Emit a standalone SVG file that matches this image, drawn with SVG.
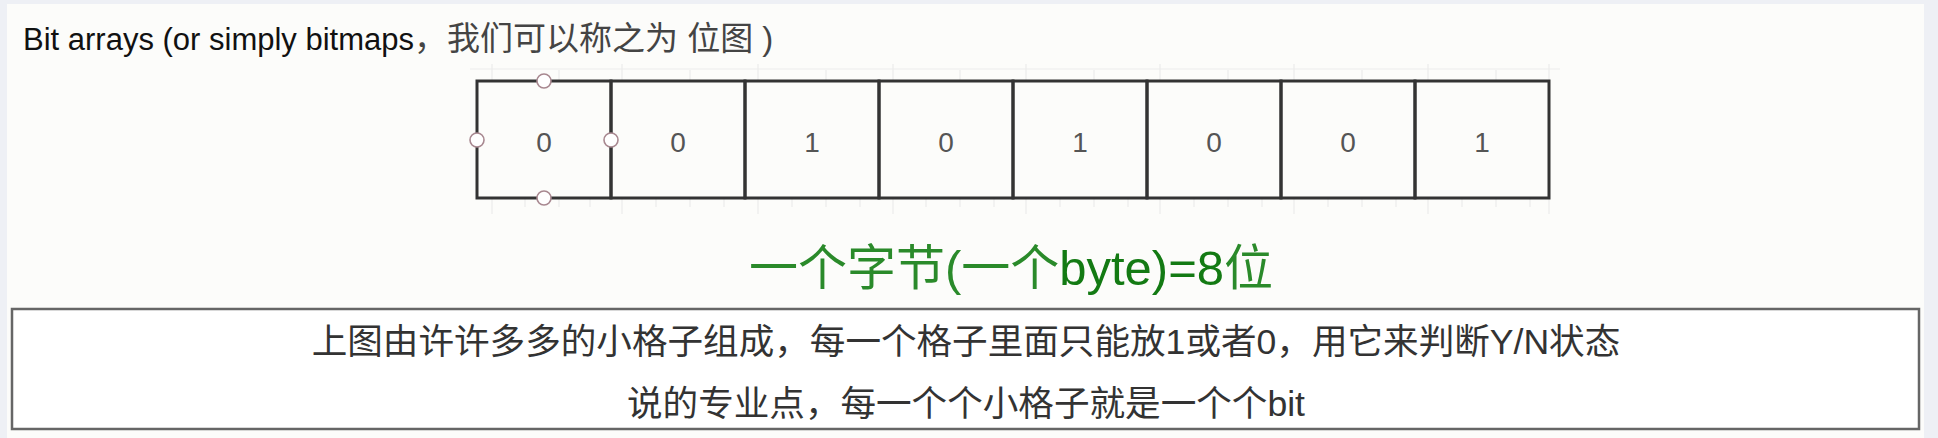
<svg xmlns="http://www.w3.org/2000/svg" width="1938" height="438" viewBox="0 0 1938 438">
  <style>
    .cell rect { fill: none; stroke: #333; stroke-width: 3; }
    .cell text { font-family: "Liberation Sans", Arial, sans-serif; font-size: 28px; fill: #555; text-anchor: middle; }
    .handle { fill: #fff; stroke: #a88890; stroke-width: 1.6; }
    .tick { stroke: #ebebeb; stroke-width: 1.2; }
    .title { font-family: "Liberation Sans", Arial, "Noto Sans CJK SC", sans-serif; font-size: 31px; }
    .byte { font-family: "Liberation Sans", Arial, "Noto Sans CJK SC", sans-serif; font-size: 49px; fill: #2a8a2a; text-anchor: middle; }
    .note rect { fill: #fff; stroke: #666; stroke-width: 2.5; }
    .note text { font-family: "Liberation Sans", Arial, "Noto Sans CJK SC", sans-serif; font-size: 35.6px; fill: #333; text-anchor: middle; }
  </style>
  <rect x="0" y="0" width="1938" height="438" fill="#eef0f5"/>
  <rect x="7" y="4" width="1917" height="434" fill="#fcfcfa"/>

  <g id="title" class="title">
    <text x="23" y="50"><tspan fill="#111">Bit arrays (or simply bitmaps</tspan><tspan fill="#444" font-size="33">，我们可以称之为 位图 )</tspan></text>
  </g>

  <g id="ruler">
    <line class="tick" x1="470" y1="69" x2="1560" y2="69"/>
    <path class="tick" d="M492 64V80M559 70V80M622 64V80M690 70V80M758 64V80M826 70V80M893 64V80M960 70V80M1026 64V80M1094 70V80M1160 64V80M1228 70V80M1294 64V80M1362 70V80M1428 64V80M1496 70V80M1549 64V80"/>
    <path class="tick" d="M492 199V214M525 199V207M559 199V207M590 199V207M622 199V214M656 199V207M690 199V207M724 199V207M758 199V214M792 199V207M826 199V207M860 199V207M893 199V214M926 199V207M960 199V207M994 199V207M1026 199V214M1060 199V207M1094 199V207M1128 199V207M1160 199V214M1194 199V207M1228 199V207M1262 199V207M1294 199V214M1328 199V207M1362 199V207M1396 199V207M1428 199V214M1462 199V207M1496 199V207M1530 199V207M1549 199V214"/>
  </g>

  <g id="bit0" class="cell"><rect x="477" y="81" width="134" height="117"/><text x="544" y="152">0</text></g>
  <g id="bit1" class="cell"><rect x="611" y="81" width="134" height="117"/><text x="678" y="152">0</text></g>
  <g id="bit2" class="cell"><rect x="745" y="81" width="134" height="117"/><text x="812" y="152">1</text></g>
  <g id="bit3" class="cell"><rect x="879" y="81" width="134" height="117"/><text x="946" y="152">0</text></g>
  <g id="bit4" class="cell"><rect x="1013" y="81" width="134" height="117"/><text x="1080" y="152">1</text></g>
  <g id="bit5" class="cell"><rect x="1147" y="81" width="134" height="117"/><text x="1214" y="152">0</text></g>
  <g id="bit6" class="cell"><rect x="1281" y="81" width="134" height="117"/><text x="1348" y="152">0</text></g>
  <g id="bit7" class="cell"><rect x="1415" y="81" width="134" height="117"/><text x="1482" y="152">1</text></g>

  <g id="handles">
    <circle class="handle" cx="544" cy="81" r="7"/>
    <circle class="handle" cx="477" cy="140" r="7"/>
    <circle class="handle" cx="611" cy="140" r="7"/>
    <circle class="handle" cx="544" cy="198" r="7"/>
  </g>

  <g id="connectors"></g>

  <g id="byte-label">
    <text class="byte" x="1011" y="285">一个字节(一个<tspan fill="#137a13">byte)=8</tspan>位</text>
  </g>

  <g id="note" class="note">
    <rect x="12" y="309" width="1907" height="120"/>
    <text x="966" y="354">上图由许许多多的小格子组成，每一个格子里面只能放1或者0，用它来判断Y/N状态</text>
    <text x="966" y="416">说的专业点，每一个个小格子就是一个个bit</text>
  </g>
</svg>
